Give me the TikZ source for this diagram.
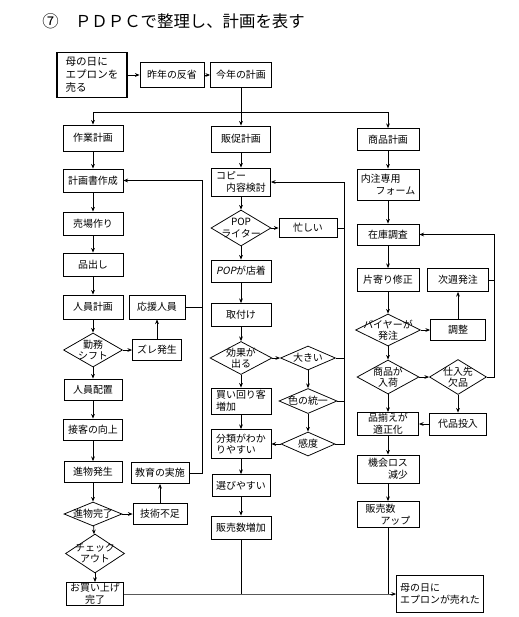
\documentclass[tikz,border=0pt]{standalone}
\usepackage{fontspec}
\setmainfont{Noto Sans CJK JP}
\newfontfamily\slantfont[FakeSlant=0.2]{Noto Sans CJK JP}
\usetikzlibrary{arrows.meta,shapes.geometric}

\begin{document}
\begin{tikzpicture}[x=0.03cm,y=-0.03cm,>={Stealth[length=4pt,width=3.2pt]},
    line width=0.65pt,
    font=\fontsize{8.5}{10}\selectfont,
    sz/.style 2 args={minimum width=#1*0.03cm,minimum height=#2*0.03cm},
    box/.style={draw,align=left,inner sep=1pt,sz={60}{23}},
    startbox/.style={box,line width=1.4pt,font=\fontsize{9}{11}\selectfont},
    dec/.style={diamond,draw,align=center,inner sep=-14pt,
      font=\fontsize{8.5}{9.5}\selectfont}]
  \useasboundingbox (0,0) rectangle (518,617);
  \node[anchor=west,font=\fontsize{14}{16}\selectfont] (title) at (38,21)
    {⑦\quad ＰＤＰＣで整理し、計画を表す};

  % top row
  \node[startbox,sz={70}{45}] (start) at (92,75) {母の日に\\エプロンを\\売る};
  \node[box,sz={64}{25}] (lastyr) at (172,75) {昨年の反省};
  \node[box,sz={61}{25}] (thisyr) at (241,75) {今年の計画};
  \coordinate (split) at (241,112);

  % work plan
  \node[box,sz={60}{26}] (work) at (93,138) {作業計画};
  \node[box] (doc) at (93,180.5) {計画書作成};
  \node[box] (floor) at (93,223.5) {売場作り};
  \node[box] (shelf) at (93,264.5) {品出し};
  \node[box,sz={60}{24}] (staff) at (93,307) {人員計画};
  \node[dec,sz={59}{34}] (shift) at (93,350) {勤務\\シフト};
  \node[box,sz={49}{21}] (gap) at (157,350) {ズレ発生};
  \node[box,sz={56}{24}] (help) at (157,307) {応援人員};
  \node[box,sz={58}{21}] (place) at (93,389.5) {人員配置};
  \node[box,sz={59}{21}] (serve) at (93,429.5) {接客の向上};
  \node[box,sz={58}{21}] (gift) at (93,472) {進物発生};
  \node[dec,sz={58}{24}] (done) at (93,514) {進物完了};
  \node[box,sz={54}{21}] (skill) at (160,514) {技術不足};
  \node[box,sz={58}{21}] (edu) at (160,473) {教育の実施};
  \node[dec,sz={59}{39}] (check) at (95,553.5) {チェック\\アウト};
  \node[box,sz={57}{22},align=center] (bought) at (95,594) {お買い上げ\\完了};
  \coordinate (fbA) at (202,473);

  % promotion plan
  \node[box,sz={59}{26}] (promo) at (241,139) {販促計画};
  \node[box,sz={59}{28}] (copy) at (241,182) {コピー\\\hspace*{1em}内容検討};
  \node[dec,sz={60}{36}] (pop) at (241,228) {POP\\ライター};
  \node[box,sz={58}{19}] (busy) at (308,228) {忙しい};
  \node[box,sz={60}{22}] (arrive) at (241,271) {{\slantfont POP}が店着};
  \node[box] (mount) at (241,315) {取付け};
  \node[dec,sz={62}{33}] (effect) at (241,358) {効果が\\出る};
  \node[dec,sz={55}{24}] (big) at (308,358) {大きい};
  \node[dec,sz={58}{25}] (color) at (308,401) {色の統一};
  \node[dec,sz={54}{24}] (sense) at (308,444) {感度};
  \node[box,sz={60}{26}] (tour) at (241,401) {買い回り客\\増加};
  \node[box,sz={60}{29}] (sort) at (241,444) {分類がわか\\りやすい};
  \node[box,sz={58}{22}] (easy) at (241,485.5) {選びやすい};
  \node[box] (salesB) at (241,527.5) {販売数増加};
  \coordinate (fbB) at (344,444);

  % goods plan
  \node[box,sz={62}{22}] (goods) at (388,139.5) {商品計画};
  \node[box,sz={62}{31}] (form) at (388,184.5) {内注専用\\\hspace*{1.5em}フォーム};
  \node[box,sz={62}{21}] (stock) at (388,234.5) {在庫調査};
  \node[box,sz={62}{23}] (fix) at (388,280) {片寄り修正};
  \node[box,sz={61}{23}] (next) at (458,280) {次週発注};
  \node[dec,sz={65}{32}] (buyer) at (388,330) {バイヤーが\\発注};
  \node[box,sz={55}{21}] (adjust) at (458,330) {調整};
  \node[dec,sz={62}{34}] (inbound) at (388,377) {商品が\\入荷};
  \node[dec,sz={57}{35}] (lack) at (458,377) {仕入先\\欠品};
  \node[box,sz={57}{22}] (subst) at (458,424) {代品投入};
  \node[box,sz={61}{23},align=center] (range) at (388,424) {品揃えが\\適正化};
  \node[box,sz={62}{28}] (loss) at (388,469) {機会ロス\\\hspace*{2em}減少};
  \node[box,sz={62}{26}] (salesC) at (388,514.5) {販売数\\\hspace*{1.5em}アップ};
  \coordinate (fbC) at (494,377);

  \node[box,sz={87}{37}] (goal) at (440,594) {母の日に\\エプロンが売れた};
  \coordinate (bus) at (388,594);

  \path[->] (start) edge (lastyr)
            (lastyr) edge (thisyr)
            (thisyr) edge (promo);
  \draw[->] (split) -| (work);
  \draw[->] (split) -| (goods);

  \path[->] (work) edge (doc)
            (doc) edge (floor)
            (floor) edge (shelf)
            (shelf) edge (staff)
            (staff) edge (shift)
            (shift) edge (gap)
            (gap) edge (help)
            (shift) edge (place)
            (place) edge (serve)
            (serve) edge (gift)
            (gift) edge (done)
            (done) edge (skill)
            (skill) edge (edu)
            (done) edge (check)
            (check) edge (bought);
  \draw[->] (edu) -- (fbA) |- (doc);
  \draw (help) -- (help -| fbA);

  \path[->] (promo) edge (copy)
            (copy) edge (pop)
            (pop) edge (busy)
            (pop) edge (arrive)
            (arrive) edge (mount)
            (mount) edge (effect)
            (effect) edge (big)
            (effect) edge (tour)
            (big) edge (color)
            (color) edge (sense)
            (sense) edge (sort)
            (tour) edge (sort)
            (sort) edge (easy)
            (easy) edge (salesB);
  \draw[->] (sense) -- (fbB) |- (copy);
  \draw (busy) -- (busy -| fbB);
  \draw (big) -- (big -| fbB);
  \draw (color) -- (color -| fbB);

  \path[->] (goods) edge (form)
            (form) edge (stock)
            (stock) edge (fix)
            (fix) edge (buyer)
            (buyer) edge (adjust)
            (adjust) edge (next)
            (buyer) edge (inbound)
            (inbound) edge (lack)
            (inbound) edge (range)
            (lack) edge (subst)
            (subst) edge (range)
            (range) edge (loss)
            (loss) edge (salesC);
  \draw[->] (lack) -- (fbC) |- (stock);
  \draw (next) -- (next -| fbC);

  \draw[->] (bought) -- (bus) -- (goal);
  \draw (salesB) -- (salesB |- bus);
  \draw (salesC) -- (bus);
\end{tikzpicture}
\end{document}
